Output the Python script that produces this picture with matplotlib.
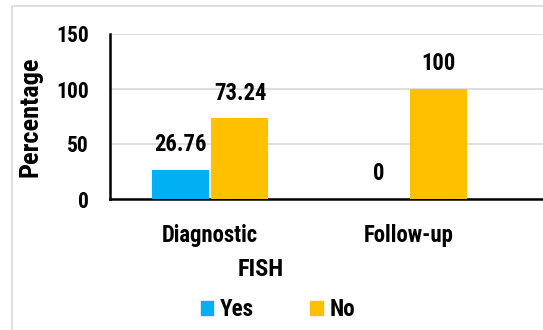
import numpy as np
import matplotlib
matplotlib.use("Agg")
import matplotlib.pyplot as plt
from matplotlib.patches import Rectangle, Patch

categories = ["Diagnostic", "Follow-up"]
yes_values = [26.76, 0]
no_values = [73.24, 100]
series_names = ["Yes", "No"]
yticks = [0, 50, 100, 150]

plt.rcParams['font.family'] = ['Roboto Condensed', 'Roboto', 'DejaVu Sans']
plt.rcParams['font.weight'] = 'bold'

fig = plt.figure(figsize=(5.43, 3.30), dpi=100)
ax = fig.add_axes([110 / 543, 131 / 330, 433 / 543, 165 / 330])

# light frame of the original chart area (cropped on the right and bottom)
fig.patches.append(Rectangle((12 / 543, -0.1), 1.0, 1.1 - 6 / 330,
                             transform=fig.transFigure, fill=False,
                             edgecolor='#D9D9D9', linewidth=1.2))

x = np.arange(len(categories))
w = 0.287
b1 = ax.bar(x - 0.15, yes_values, w, color='#00B0F0', label=series_names[0], zorder=3)
b2 = ax.bar(x + 0.15, no_values, w, color='#FFC000', label=series_names[1], zorder=3)

for bars, vals in [(b1, yes_values), (b2, no_values)]:
    for bar, v in zip(bars, vals):
        ax.annotate(f"{v:g}", (bar.get_x() + bar.get_width() / 2, v),
                    xytext=(0, 10), textcoords='offset points',
                    ha='center', va='bottom', fontsize=16.3, fontweight='bold')

ax.set_xlim(-0.503, 1.673)
ax.set_ylim(0, 150)
ax.set_yticks(yticks)
ax.set_xticks(x)
ax.set_xticklabels(categories)
ax.tick_params(axis='both', length=0)
ax.tick_params(axis='y', pad=15, labelsize=15.5)
ax.tick_params(axis='x', pad=18, labelsize=16.4)
ax.yaxis.grid(True, color='#D9D9D9', linewidth=1.2, zorder=0)
ax.set_axisbelow(True)

for s in ['top', 'right']:
    ax.spines[s].set_visible(False)
for s in ['left', 'bottom']:
    ax.spines[s].set_linewidth(1.8)
    ax.spines[s].set_color('black')

fig.text(30 / 543, 1 - 117 / 330, "Percentage", rotation=90, ha='center', va='center',
         fontsize=19, fontweight='bold')
fig.text(261 / 543, 1 - 270 / 330, "FISH", ha='center', va='center',
         fontsize=17.6, fontweight='bold')

fig.legend(handles=[Patch(color='#00B0F0'), Patch(color='#FFC000')],
           labels=series_names, loc='center', bbox_to_anchor=(278 / 543, 1 - 310 / 330),
           ncol=2, frameon=False, fontsize=16.7, handlelength=0.55, handleheight=0.55,
           columnspacing=2.4, handletextpad=0.3)

fig.savefig("out.png", dpi=100)
